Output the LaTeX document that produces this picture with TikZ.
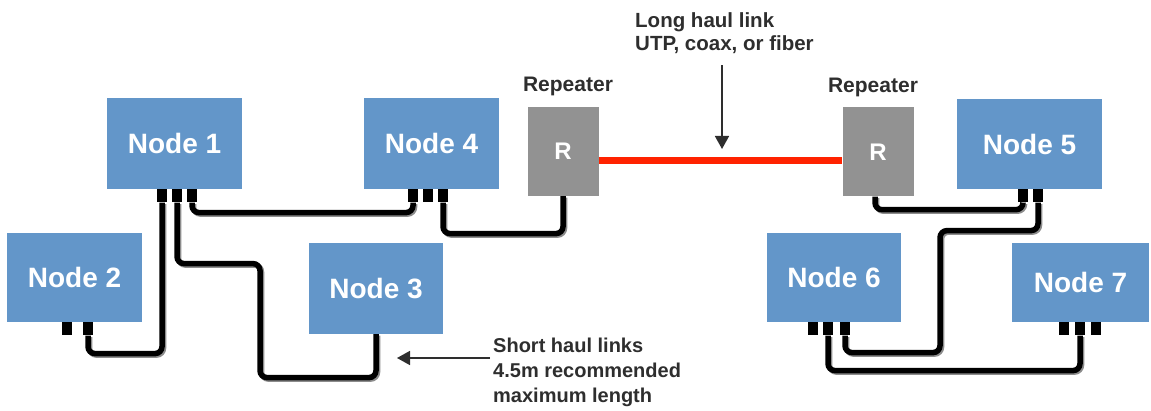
\documentclass[tikz,border=0pt]{standalone}
\usepackage{fontspec}
\setmainfont{Liberation Sans}
\usetikzlibrary{arrows.meta}
\definecolor{nodeblue}{HTML}{6396C9}
\definecolor{repgray}{HTML}{929292}
\definecolor{linkred}{HTML}{FF2200}
\definecolor{labelgray}{HTML}{2E2E2E}
\tikzset{
  netnode/.style={fill=nodeblue, draw=none, text=white, inner sep=0pt,
    font=\bfseries\fontsize{28}{32}\selectfont},
  repbox/.style={fill=repgray, draw=none, text=white, inner sep=0pt,
    minimum width=71pt, minimum height=89pt,
    font=\bfseries\fontsize{24}{28}\selectfont},
  plug/.style={fill=black, draw=none, inner sep=0pt, minimum width=9.5pt,
    minimum height=13pt, anchor=north},
  cable/.style={line width=5.5pt, black, rounded corners=7pt,
    preaction={draw, line width=5.5pt, black!45,
      transform canvas={shift={(1.5pt,-1.5pt)}}}},
  redlink/.style={line width=7pt, linkred},
  caption/.style={text=labelgray, inner sep=0pt, font=\bfseries\fontsize{20}{25}\selectfont},
  pointer/.style={line width=1.6pt, draw=labelgray, fill=labelgray,
    arrows={-{Triangle[width=14pt,length=13pt]}}}
}
\begin{document}
\begin{tikzpicture}[x=1pt,y=-1pt]
\useasboundingbox (0,0) rectangle (1151,411);
% nodes
\node[netnode, minimum width=135pt, minimum height=91pt] (n1) at (174.5,143.5) {Node 1};
\node[netnode, minimum width=135pt, minimum height=91pt] (n4) at (431.5,143.5) {Node 4};
\node[netnode, minimum width=135pt, minimum height=89pt] (n2) at (74.5,277.5) {Node 2};
\node[netnode, minimum width=134pt, minimum height=91pt] (n3) at (376,288.5) {Node 3};
\node[netnode, minimum width=145pt, minimum height=90pt] (n5) at (1029.5,144) {Node 5};
\node[netnode, minimum width=134pt, minimum height=89pt] (n6) at (834,277.5) {Node 6};
\node[netnode, minimum width=137pt, minimum height=79pt] (n7) at (1080.5,282.5) {Node 7};
\node[repbox] (rl) at (563,151.5) {R};
\node[repbox] (rr) at (878,152) {R};
% repeater labels
\node[caption, anchor=base, font=\bfseries\fontsize{21}{25}\selectfont] (rll) at ([xshift=5pt,yshift=15pt]rl.north) {Repeater};
\node[caption, anchor=base, font=\bfseries\fontsize{21}{25}\selectfont] (rrl) at ([xshift=-5pt,yshift=15pt]rr.north) {Repeater};
% plugs
\node[plug] (n1p1) at ([xshift=-12.5pt]n1.south) {};
\node[plug] (n1p2) at ([xshift=2.5pt]n1.south) {};
\node[plug] (n1p3) at ([xshift=17.5pt]n1.south) {};
\node[plug] (n4p1) at ([xshift=-18.5pt]n4.south) {};
\node[plug] (n4p2) at ([xshift=-3.5pt]n4.south) {};
\node[plug] (n4p3) at ([xshift=11.5pt]n4.south) {};
\node[plug] (n2p1) at ([xshift=-7.5pt]n2.south) {};
\node[plug] (n2p2) at ([xshift=13.5pt]n2.south) {};
\node[plug] (n5p1) at ([xshift=-6.5pt]n5.south) {};
\node[plug] (n5p2) at ([xshift=8.5pt]n5.south) {};
\node[plug] (n6p1) at ([xshift=-21pt]n6.south) {};
\node[plug] (n6p2) at ([xshift=-6pt]n6.south) {};
\node[plug] (n6p3) at ([xshift=11pt]n6.south) {};
\node[plug] (n7p1) at ([xshift=-16.5pt]n7.south) {};
\node[plug] (n7p2) at ([xshift=-0.5pt]n7.south) {};
\node[plug] (n7p3) at ([xshift=15.5pt]n7.south) {};
% cables
\draw[cable] (n1p1.south) -- ++(0,151) -| (n2p2.south);
\draw[cable] (n1p2.south) -- ++(0,61) -| ++(83,114) -| (n3.south);
\draw[cable] (n1p3.south) -- ++(0,10) -| (n4p1.south);
\draw[cable] (n4p3.south) -- ++(0,31) -| (rl.south);
\draw[cable] ([xshift=-3pt]rr.south) -- ++(0,13) -| (n5p1.south);
\draw[cable] (n5p2.south) -- ++(0,28) -| ++(-98,122) -| (n6p3.south);
\draw[cable] (n6p2.south) -- ++(0,35) -| (n7p2.south);
% long haul link
\coordinate (redstart) at ([yshift=-9.5pt]rl.east);
\draw[redlink] (redstart) -- (redstart -| rr.west);
% captions
\node[caption, anchor=north west, align=left, font=\bfseries\fontsize{20.5}{23}\selectfont] (lh) at (635,12) {Long haul link\\UTP, coax, or fiber};
\coordinate (lhend) at (722,149);
\coordinate (lhstart) at ([yshift=-12pt]lh.south -| lhend);
\draw[pointer] (lhstart) -- (lhend);
\node[caption, anchor=north west, align=left] (sh) at (493,338) {Short haul links\\4.5m recommended\\maximum length};
\coordinate (shend) at (397,358);
\coordinate (shstart) at ([xshift=-3pt]sh.west |- shend);
\draw[pointer] (shstart) -- (shend);
\end{tikzpicture}
\end{document}
